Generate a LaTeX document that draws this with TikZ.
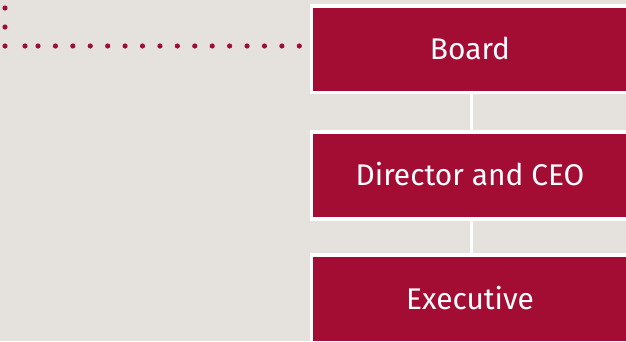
\documentclass[tikz,border=0pt]{standalone}
\usepackage{fontspec}
\setmainfont{Fira Sans}
\definecolor{crimson}{RGB}{163,13,52}
\definecolor{paper}{RGB}{229,226,222}

\tikzset{
	orgbox/.style={rectangle, fill=crimson, draw=white, line width=3.5bp,
		minimum width=317bp, inner sep=0pt, outer sep=0pt,
		text=white, font=\fontsize{30}{36}\selectfont,
		text height=21bp, text depth=0pt},
	link/.style={draw=white, line width=3bp},
	dot/.style={fill=crimson}
}

\begin{document}
\begin{tikzpicture}[x=1bp,y=-1bp]
	
	% Background
	\fill[paper] (0,0) rectangle (626,341);
	\useasboundingbox (0,0) rectangle (626,341);
	
	%------------------------------
	% Dotted line on the left
	%------------------------------
	\foreach \y in {8,27,46}
	\fill[dot] (5,\y) circle (2.6bp);
	\fill[dot] (25,46) circle (2.6bp);
	\foreach \k in {0,...,15}
	\fill[dot] (38+17.42*\k,46) circle (2.6bp);
	
	%------------------------------
	% Boxes
	%------------------------------
	\node[orgbox, minimum height=86.5bp] (board) at (470,49) {Board};
	\node[orgbox, minimum height=87bp] (director) at (470,175.25) {Director and CEO};
	\node[orgbox, minimum height=88bp] (executive) at (470,298.75) {Executive};
	
	% Connectors
	\draw[link] ([xshift=1.5bp]board.south) -- ([xshift=1.5bp]director.north);
	\draw[link] ([xshift=1.5bp]director.south) -- ([xshift=1.5bp]executive.north);
	
\end{tikzpicture}
\end{document}
